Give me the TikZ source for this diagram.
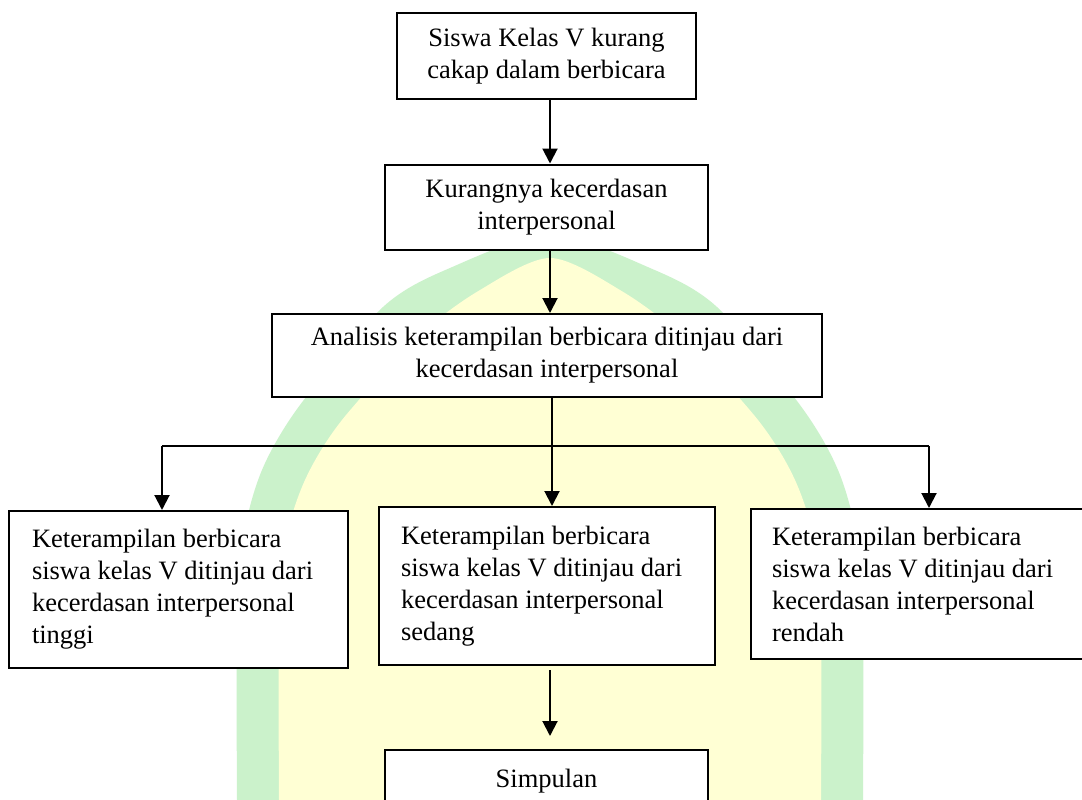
\documentclass[tikz,border=0pt]{standalone}
\usepackage{fontspec}
\setmainfont{Liberation Serif}
\usetikzlibrary{arrows.meta}
\definecolor{wmgreen}{RGB}{203,242,203}
\definecolor{wmyellow}{RGB}{255,255,212}
\begin{document}
\begin{tikzpicture}[x=1pt,y=-1pt,
  every node/.style={font=\fontsize{26.5pt}{32pt}\selectfont},
  cbox/.style={draw, line width=2pt, fill=white, inner sep=0pt, align=center},
  lbox/.style={draw, line width=2pt, fill=white, inner ysep=0pt, align=flush left},
  arr/.style={line width=2pt, -{Triangle[width=15pt,length=15pt]}},
  conn/.style={line width=2pt}]
\useasboundingbox (0,0) rectangle (1082,800);
\clip (0,0) rectangle (1082,800);
\fill[white] (0,0) rectangle (1082,800);
% watermark
\fill[wmgreen] plot[smooth] coordinates {(237,800) (237,640) (243,540) (262,470) (300,405) (383,307) (450,268) (550,235) (650,268) (717,307) (800,405) (838,470) (857,540) (863,640) (863,800)} -- cycle;
\fill[wmyellow] plot[smooth] coordinates {(279,800) (279,640) (285,545) (305,480) (342,420) (420,335) (480,290) (550,258) (620,290) (680,335) (758,420) (795,480) (815,545) (821,640) (821,800)} -- cycle;
% nodes
\node[cbox, minimum width=299pt, minimum height=86pt] (b1) at (546.5,56) {Siswa Kelas V kurang\\cakap dalam berbicara};
\node[cbox, minimum width=323pt, minimum height=85pt] (b2) at (546.5,207) {Kurangnya kecerdasan\\interpersonal};
\node[cbox, minimum width=550pt, minimum height=83pt] (b3) at (547,355.5) {Analisis keterampilan berbicara ditinjau dari\\kecerdasan interpersonal};
\node[lbox, inner xsep=23pt, text width=293pt, minimum height=157pt] (lb) at (178.5,589.5) {Keterampilan berbicara\\siswa kelas V ditinjau dari\\kecerdasan interpersonal\\tinggi};
\node[lbox, inner xsep=22pt, text width=292pt, minimum height=158pt] (mb) at (547,586) {Keterampilan berbicara\\siswa kelas V ditinjau dari\\kecerdasan interpersonal\\sedang};
\node[lbox, inner xsep=21pt, text width=298pt, minimum height=150pt] (rb) at (921,584) {Keterampilan berbicara\\siswa kelas V ditinjau dari\\kecerdasan interpersonal\\rendah};
\node[cbox, minimum width=323pt, minimum height=62pt] (sb) at (546.5,781) {Simpulan};
% connectors
\coordinate (c1) at (550,0);
\coordinate (c2) at (552,0);
\coordinate (hl) at (162,446);
\coordinate (hr) at (929,446);
\draw[arr] (b1.south -| c1) -- (b2.north -| c1);
\draw[arr] (b2.south -| c1) -- (b3.north -| c1);
\draw[arr] (b3.south -| c2) -- (mb.north -| c2);
\draw[conn] (hl) -- (hr);
\draw[arr] (hl) -- (lb.north -| hl);
\draw[arr] (hr) -- (rb.north -| hr);
\draw[arr, shorten <=4pt, shorten >=13pt] (mb.south -| c1) -- (sb.north -| c1);
\end{tikzpicture}
\end{document}
